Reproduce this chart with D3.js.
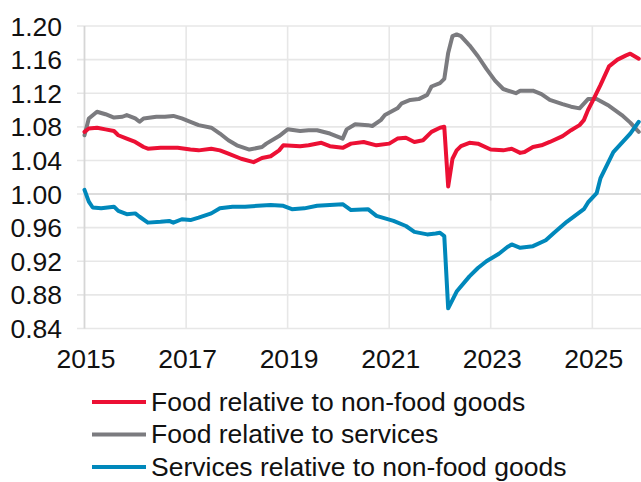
<!DOCTYPE html>
<html>
<head>
<meta charset="utf-8">
<script src="https://cdn.jsdelivr.net/npm/d3@7/dist/d3.min.js"></script>
<style>
  html, body { margin: 0; padding: 0; background: #ffffff; }
  svg { display: block; font-family: "Liberation Sans", Arial, sans-serif; }
</style>
</head>
<body>
<svg id="chart" width="641" height="482"></svg>
<script>
// Relative price indices, monthly readings (YYYY-MM, ratio)
const foodVsNonFood = [
  ["2015-01", 1.074], ["2015-02", 1.078], ["2015-04", 1.079], ["2015-06", 1.077],
  ["2015-08", 1.075], ["2015-09", 1.070], ["2015-11", 1.066], ["2016-01", 1.062],
  ["2016-03", 1.056], ["2016-04", 1.054], ["2016-07", 1.055], ["2016-09", 1.055],
  ["2016-11", 1.055], ["2017-02", 1.053], ["2017-04", 1.052], ["2017-07", 1.054],
  ["2017-09", 1.052], ["2017-11", 1.048], ["2018-02", 1.042], ["2018-05", 1.038],
  ["2018-07", 1.043], ["2018-09", 1.045], ["2018-11", 1.052], ["2018-12", 1.058],
  ["2019-04", 1.057], ["2019-06", 1.058], ["2019-09", 1.061], ["2019-11", 1.057],
  ["2020-02", 1.055], ["2020-04", 1.060], ["2020-07", 1.062], ["2020-10", 1.058],
  ["2021-01", 1.060], ["2021-03", 1.066], ["2021-05", 1.067], ["2021-07", 1.062],
  ["2021-09", 1.064], ["2021-11", 1.074], ["2022-01", 1.079], ["2022-02", 1.080],
  ["2022-03", 1.009], ["2022-04", 1.042], ["2022-05", 1.052], ["2022-06", 1.057],
  ["2022-08", 1.061], ["2022-10", 1.060], ["2023-01", 1.053], ["2023-04", 1.052],
  ["2023-06", 1.054], ["2023-08", 1.049], ["2023-09", 1.050], ["2023-11", 1.056],
  ["2024-01", 1.058], ["2024-03", 1.062], ["2024-06", 1.069], ["2024-08", 1.076],
  ["2024-10", 1.082], ["2024-11", 1.088], ["2024-12", 1.100], ["2025-01", 1.110],
  ["2025-03", 1.130], ["2025-05", 1.152], ["2025-07", 1.160], ["2025-09", 1.165],
  ["2025-10", 1.167], ["2025-12", 1.161]
];

const foodVsServices = [
  ["2015-01", 1.070], ["2015-02", 1.090], ["2015-04", 1.098], ["2015-06", 1.095],
  ["2015-08", 1.091], ["2015-10", 1.092], ["2015-11", 1.094], ["2016-01", 1.090],
  ["2016-02", 1.086], ["2016-03", 1.090], ["2016-06", 1.092], ["2016-08", 1.092],
  ["2016-10", 1.093], ["2016-12", 1.090], ["2017-02", 1.086], ["2017-04", 1.082],
  ["2017-07", 1.079], ["2017-09", 1.072], ["2017-11", 1.064], ["2018-01", 1.058],
  ["2018-04", 1.053], ["2018-07", 1.056], ["2018-08", 1.060], ["2018-11", 1.069],
  ["2019-01", 1.077], ["2019-04", 1.075], ["2019-06", 1.076], ["2019-08", 1.076],
  ["2019-11", 1.072], ["2020-02", 1.066], ["2020-03", 1.077], ["2020-05", 1.083],
  ["2020-08", 1.082], ["2020-09", 1.081], ["2020-11", 1.088], ["2020-12", 1.094],
  ["2021-03", 1.102], ["2021-04", 1.108], ["2021-06", 1.112], ["2021-08", 1.113],
  ["2021-10", 1.118], ["2021-11", 1.128], ["2022-01", 1.132], ["2022-02", 1.137],
  ["2022-03", 1.168], ["2022-04", 1.188], ["2022-05", 1.190], ["2022-06", 1.188],
  ["2022-08", 1.177], ["2022-10", 1.164], ["2022-12", 1.149], ["2023-02", 1.135],
  ["2023-04", 1.125], ["2023-07", 1.120], ["2023-08", 1.123], ["2023-11", 1.123],
  ["2024-01", 1.119], ["2024-03", 1.112], ["2024-06", 1.107], ["2024-08", 1.104],
  ["2024-10", 1.102], ["2024-12", 1.113], ["2025-02", 1.113], ["2025-05", 1.105],
  ["2025-08", 1.094], ["2025-10", 1.085], ["2025-12", 1.074]
];

const servicesVsNonFood = [
  ["2015-01", 1.005], ["2015-02", 0.991], ["2015-03", 0.984], ["2015-05", 0.983],
  ["2015-08", 0.985], ["2015-09", 0.980], ["2015-11", 0.976], ["2016-01", 0.977],
  ["2016-02", 0.973], ["2016-04", 0.966], ["2016-07", 0.967], ["2016-09", 0.968],
  ["2016-10", 0.966], ["2016-12", 0.970], ["2017-02", 0.969], ["2017-04", 0.972],
  ["2017-07", 0.977], ["2017-09", 0.983], ["2017-12", 0.985], ["2018-03", 0.985],
  ["2018-06", 0.986], ["2018-09", 0.987], ["2018-12", 0.986], ["2019-02", 0.982],
  ["2019-05", 0.983], ["2019-08", 0.986], ["2019-11", 0.987], ["2020-02", 0.988],
  ["2020-04", 0.981], ["2020-08", 0.982], ["2020-10", 0.974], ["2021-02", 0.968],
  ["2021-05", 0.962], ["2021-07", 0.955], ["2021-10", 0.952], ["2021-12", 0.953],
  ["2022-01", 0.954], ["2022-02", 0.950], ["2022-03", 0.864], ["2022-04", 0.874],
  ["2022-05", 0.884], ["2022-08", 0.902], ["2022-10", 0.912], ["2022-12", 0.920],
  ["2023-03", 0.929], ["2023-05", 0.937], ["2023-06", 0.940], ["2023-08", 0.936],
  ["2023-11", 0.938], ["2024-02", 0.945], ["2024-04", 0.954], ["2024-07", 0.967],
  ["2024-11", 0.982], ["2024-12", 0.990], ["2025-02", 1.001], ["2025-03", 1.019],
  ["2025-06", 1.050], ["2025-10", 1.072], ["2025-12", 1.086]
];

const yTicks = [0.84, 0.88, 0.92, 0.96, 1.00, 1.04, 1.08, 1.12, 1.16, 1.20];
const xTickYears = [2015, 2017, 2019, 2021, 2023, 2025];

const seriesNames = [
  "Food relative to non-food goods",
  "Food relative to services",
  "Services relative to non-food goods"
];
const seriesColors = ["#ec1034", "#7b7b7f", "#0088bb"];

const svg = d3.select("#chart");
const W = 641, H = 482;
const plot = { left: 84.5, top: 26, bottom: 328.5, right: W };
const fontSize = 26.5;

const parseMonth = d3.utcParse("%Y-%m");
const x = d3.scaleUtc()
  .domain([new Date(Date.UTC(2015, 0, 1)), new Date(Date.UTC(2026, 0, 1))])
  .range([plot.left, plot.left + 11 * 50.78]);
const y = d3.scaleLinear().domain([0.84, 1.20]).range([plot.bottom, plot.top]);

const gridColor = "#e7e7e7";
const axisColor = "#d6d6d6";

// horizontal gridlines (with small outward ticks on the value axis)
svg.append("g").selectAll("line").data(yTicks).join("line")
  .attr("x1", plot.left - 7.5).attr("x2", plot.right)
  .attr("y1", d => y(d)).attr("y2", d => y(d))
  .attr("stroke", gridColor).attr("stroke-width", 1.6);

// vertical gridlines
svg.append("g").selectAll("line").data(xTickYears.slice(1)).join("line")
  .attr("x1", d => x(new Date(Date.UTC(d, 0, 1))))
  .attr("x2", d => x(new Date(Date.UTC(d, 0, 1))))
  .attr("y1", plot.top).attr("y2", plot.bottom)
  .attr("stroke", gridColor).attr("stroke-width", 1.6);

// value axis line
svg.append("line")
  .attr("x1", plot.left).attr("x2", plot.left)
  .attr("y1", plot.top).attr("y2", plot.bottom)
  .attr("stroke", axisColor).attr("stroke-width", 1.8);

// category axis crosses at 1.00; tick marks hang below it
svg.append("line")
  .attr("x1", plot.left).attr("x2", plot.right)
  .attr("y1", y(1.0)).attr("y2", y(1.0))
  .attr("stroke", axisColor).attr("stroke-width", 1.6);
svg.append("g").selectAll("line").data(xTickYears).join("line")
  .attr("x1", d => x(new Date(Date.UTC(d, 0, 1))))
  .attr("x2", d => x(new Date(Date.UTC(d, 0, 1))))
  .attr("y1", y(1.0)).attr("y2", y(1.0) + 6.5)
  .attr("stroke", axisColor).attr("stroke-width", 1.6);

// y tick labels
svg.append("g").selectAll("text").data(yTicks).join("text")
  .attr("x", 62).attr("y", d => y(d) + 9.5)
  .attr("text-anchor", "end")
  .attr("font-size", fontSize).attr("fill", "#111")
  .text(d => d3.format(".2f")(d));

// x tick labels (low position)
svg.append("g").selectAll("text").data(xTickYears).join("text")
  .attr("x", d => x(new Date(Date.UTC(d, 0, 1))) + 1.5)
  .attr("y", 368)
  .attr("text-anchor", "middle")
  .attr("font-size", fontSize).attr("fill", "#111")
  .text(d => d);

// series lines
const line = d3.line()
  .x(d => x(parseMonth(d[0])))
  .y(d => y(d[1]));

const seriesData = [foodVsNonFood, foodVsServices, servicesVsNonFood];
const drawOrder = [1, 0, 2];
svg.append("g").selectAll("path").data(drawOrder).join("path")
  .attr("d", i => line(seriesData[i]))
  .attr("fill", "none")
  .attr("stroke", i => seriesColors[i])
  .attr("stroke-width", 4)
  .attr("stroke-linejoin", "round")
  .attr("stroke-linecap", "round");

// legend (kept just inside the bottom edge)
const legend = svg.append("g");
seriesNames.forEach((name, i) => {
  const cy = 402 + i * 32.5;
  legend.append("line")
    .attr("x1", 92).attr("x2", 146)
    .attr("y1", cy).attr("y2", cy)
    .attr("stroke", seriesColors[i]).attr("stroke-width", 4);
  legend.append("text")
    .attr("x", 151).attr("y", cy + 8.5)
    .attr("font-size", fontSize).attr("fill", "#111")
    .text(name);
});
</script>
</body>
</html>
